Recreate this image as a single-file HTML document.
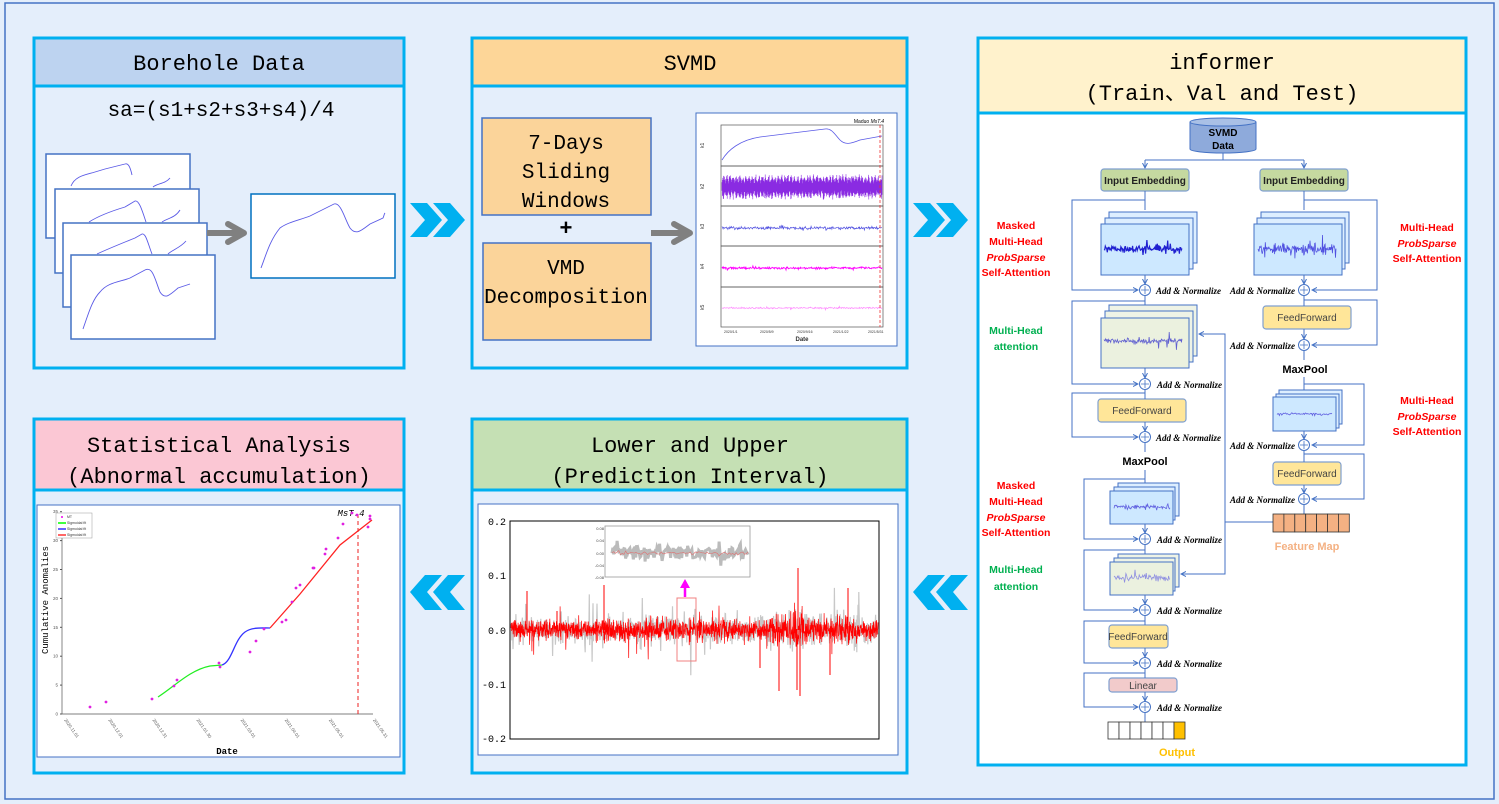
<!DOCTYPE html>
<html><head><meta charset="utf-8"><style>
html,body{margin:0;padding:0;background:#e4eefb;}
svg{display:block}
.t{font-family:"Liberation Mono",monospace;fill:#000}
.s{font-family:"Liberation Sans",Arial,sans-serif}
.an{font-family:"Liberation Serif",serif;font-style:italic;font-weight:bold;font-size:9px;fill:#000}
</style></head><body>
<svg id="sv" width="1499" height="804" viewBox="0 0 1499 804" xmlns="http://www.w3.org/2000/svg">
<defs>
<marker id="ar" markerWidth="6" markerHeight="6" refX="5" refY="3" orient="auto"><path d="M0,0.5 L5,3 L0,5.5" fill="none" stroke="#4472c4" stroke-width="1"/></marker>
</defs>
<rect x="0" y="0" width="1499" height="804" fill="#e4eefb"/>
<rect x="5" y="3" width="1489" height="796" fill="none" stroke="#4472c4" stroke-width="1.5"/>

<!-- Panel 1 -->
<rect x="34" y="38" width="370" height="330" fill="#e4eefb" stroke="#00b0f0" stroke-width="3"/>
<rect x="35.5" y="39.5" width="367" height="46" fill="#bdd3f0"/>
<line x1="34" y1="86" x2="404" y2="86" stroke="#00b0f0" stroke-width="3"/>
<text class="t" x="219" y="70" font-size="22" text-anchor="middle">Borehole Data</text>
<text class="t" x="221" y="116" font-size="21" text-anchor="middle">sa=(s1+s2+s3+s4)/4</text>
<g fill="#fff" stroke="#4472c4" stroke-width="1.5">
<rect x="46" y="154" width="144" height="84"/>
<rect x="55" y="189" width="144" height="84"/>
<rect x="63" y="223" width="144" height="84"/>
<rect x="71" y="255" width="144" height="84"/>
</g>
<g fill="none" stroke="#5a5ae6" stroke-width="0.9">
<path d="M71,186 C75,176 85,175 95,172 L105,169 L125,164 C128,163 130,166 132,175 M153,187 C158,183 165,184 170,178"/>
<path d="M89,222 C100,215 115,210 125,207 L135,201 C139,200 142,210 146,222 M162,222 C168,218 175,218 180,210"/>
<path d="M97,254 C110,248 125,242 135,238 L142,234 C146,233 148,244 152,254 M168,254 C172,250 180,248 186,241"/>
<path d="M83,329 C88,315 92,300 100,292 C108,282 120,282 130,278 L145,270 C153,266 155,280 160,292 C165,300 170,295 178,288 L190,284"/>
</g>
<rect x="251" y="194" width="144" height="84" fill="#fff" stroke="#0070c0" stroke-width="1.5"/>
<path d="M261,268 C266,255 270,240 280,228 C288,222 300,220 310,216 L334,204 C341,202 345,220 350,228 C356,236 362,230 370,224 L383,218 C384,216 384,214 385,213" fill="none" stroke="#5a5ae6" stroke-width="0.9"/>
<path d="M207,233 L241,233" stroke="#808080" stroke-width="6"/>
<path d="M228,224 L244,233 L228,242" fill="none" stroke="#808080" stroke-width="6" stroke-linecap="round" stroke-linejoin="round"/>

<!-- chevrons -->
<g fill="#00b0f0">
<path d="M410,203 L427,203 L442,220 L427,237 L410,237 L425,220Z"/><path d="M433,203 L450,203 L465,220 L450,237 L433,237 L448,220Z"/>
<path d="M913,203 L930,203 L945,220 L930,237 L913,237 L928,220Z"/><path d="M936,203 L953,203 L968,220 L953,237 L936,237 L951,220Z"/>
<path d="M465,575 L448,575 L433,592 L448,610 L465,610 L450,592Z"/><path d="M442,575 L425,575 L410,592 L425,610 L442,610 L427,592Z"/>
<path d="M968,575 L951,575 L936,592 L951,610 L968,610 L953,592Z"/><path d="M945,575 L928,575 L913,592 L928,610 L945,610 L930,592Z"/>
</g>

<!-- Panel 2 SVMD -->
<rect x="472" y="38" width="435" height="330" fill="#e4eefb" stroke="#00b0f0" stroke-width="3"/>
<rect x="473.5" y="39.5" width="432" height="46" fill="#fdd698"/>
<line x1="472" y1="86" x2="907" y2="86" stroke="#00b0f0" stroke-width="3"/>
<text class="t" x="690" y="70" font-size="22" text-anchor="middle">SVMD</text>
<rect x="482" y="118" width="169" height="97" fill="#fbd49a" stroke="#4472c4" stroke-width="1.5"/>
<rect x="483" y="243" width="168" height="97" fill="#fbd49a" stroke="#4472c4" stroke-width="1.5"/>
<text class="t" x="566" y="149" font-size="21" text-anchor="middle">7-Days</text>
<text class="t" x="566" y="178" font-size="21" text-anchor="middle">Sliding</text>
<text class="t" x="566" y="207" font-size="21" text-anchor="middle">Windows</text>
<text class="t" x="566" y="235" font-size="22" font-weight="bold" text-anchor="middle">+</text>
<text class="t" x="566" y="274" font-size="21" text-anchor="middle">VMD</text>
<text class="t" x="566" y="303" font-size="21" text-anchor="middle">Decomposition</text>
<path d="M651,233 L685,233" stroke="#808080" stroke-width="6"/>
<path d="M674,224 L690,233 L674,242" fill="none" stroke="#808080" stroke-width="6" stroke-linecap="round" stroke-linejoin="round"/>
<rect x="696" y="113" width="201" height="233" fill="#fff" stroke="#4472c4" stroke-width="1"/>
<text x="884" y="123" font-size="5" text-anchor="end" class="s">Maduo <tspan font-style="italic">MsT.4</tspan></text>
<g fill="none" stroke="#555" stroke-width="0.7">
<rect x="721" y="125" width="162" height="41"/><rect x="721" y="166" width="162" height="40"/><rect x="721" y="206" width="162" height="40"/><rect x="721" y="246" width="162" height="41"/><rect x="721" y="287" width="162" height="40"/>
</g>
<g class="s" font-size="5" fill="#333">
<text x="704" y="148" transform="rotate(-90 704 148)">k1</text><text x="704" y="189" transform="rotate(-90 704 189)">k2</text><text x="704" y="229" transform="rotate(-90 704 229)">k3</text><text x="704" y="269" transform="rotate(-90 704 269)">k4</text><text x="704" y="310" transform="rotate(-90 704 310)">k5</text>
<text x="802" y="341" font-size="6" text-anchor="middle" font-weight="bold">Date</text>
<text x="724" y="333" font-size="3.5">2020/1/1</text><text x="760" y="333" font-size="3.5">2020/5/9</text><text x="797" y="333" font-size="3.5">2020/9/16</text><text x="833" y="333" font-size="3.5">2021/1/22</text><text x="868" y="333" font-size="3.5">2021/5/31</text>
</g>
<path d="M722,160 C728,150 740,140 760,137 L825,129 C832,128 835,135 840,140 C845,145 850,144 860,140 L882,136" fill="none" stroke="#5a5ae6" stroke-width="0.8"/>
<g id="svmdg"></g>
<line x1="880" y1="125" x2="880" y2="327" stroke="#e33" stroke-width="0.8" stroke-dasharray="3,2"/>

<!-- Panel 3 informer -->
<rect x="978" y="38" width="488" height="727" fill="#fff" stroke="#00b0f0" stroke-width="3"/>
<rect x="979.5" y="39.5" width="485" height="72" fill="#fff2cc"/>
<line x1="978" y1="113" x2="1466" y2="113" stroke="#00b0f0" stroke-width="3"/>
<text class="t" x="1222" y="69" font-size="22" text-anchor="middle">informer</text>
<text class="t" x="1222" y="100" font-size="22" text-anchor="middle" font-family="'Liberation Mono','Noto Sans CJK SC',monospace">(Train、Val and Test)</text>

<!-- cylinder -->
<path d="M1190,122 L1190,149 A33,4 0 0 0 1256,149 L1256,122" fill="#8eaadb" stroke="#4472c4"/>
<ellipse cx="1223" cy="122" rx="33" ry="4" fill="#a9c0e6" stroke="#4472c4"/>
<text class="s" x="1223" y="136" font-size="10" font-weight="bold" text-anchor="middle">SVMD</text>
<text class="s" x="1223" y="149" font-size="10" font-weight="bold" text-anchor="middle">Data</text>
<g fill="none" stroke="#4472c4" stroke-width="1">
<path d="M1223,153 L1223,160 M1145,160 L1304,160"/>
<path d="M1145,160 L1145,168" marker-end="url(#ar)"/><path d="M1304,160 L1304,168" marker-end="url(#ar)"/>
</g>
<g stroke="#7f9fd0" stroke-width="1.2">
<rect x="1101" y="169" width="88" height="22" rx="3" fill="#c5d9a0"/>
<rect x="1260" y="169" width="88" height="22" rx="3" fill="#c5d9a0"/>
</g>
<text class="s" x="1145" y="184" font-size="10" text-anchor="middle" font-weight="bold" fill="#222">Input Embedding</text>
<text class="s" x="1304" y="184" font-size="10" text-anchor="middle" font-weight="bold" fill="#222">Input Embedding</text>

<!-- stacks -->
<g stroke="#4472c4" stroke-width="1">
<rect x="1109" y="212" width="88" height="51" fill="#ddeeff"/><rect x="1105" y="218" width="88" height="51" fill="#ddeeff"/><rect x="1101" y="224" width="88" height="51" fill="#cde8ff"/>
<rect x="1109" y="305" width="88" height="51" fill="#eef3e6"/><rect x="1105" y="311" width="88" height="51" fill="#eef3e6"/><rect x="1101" y="318" width="88" height="50" fill="#ebf1df"/>
<rect x="1118" y="483" width="61" height="33" fill="#ddeeff"/><rect x="1114" y="487" width="61" height="33" fill="#ddeeff"/><rect x="1110" y="491" width="63" height="33" fill="#cde8ff"/>
<rect x="1118" y="554" width="61" height="33" fill="#eef3e6"/><rect x="1114" y="558" width="61" height="33" fill="#eef3e6"/><rect x="1110" y="562" width="63" height="33" fill="#ebf1df"/>
<rect x="1261" y="212" width="88" height="51" fill="#ddeeff"/><rect x="1257" y="218" width="88" height="51" fill="#ddeeff"/><rect x="1254" y="224" width="88" height="51" fill="#cde8ff"/>
<rect x="1279" y="390" width="63" height="34" fill="#ddeeff"/><rect x="1276" y="394" width="63" height="34" fill="#ddeeff"/><rect x="1273" y="397" width="63" height="34" fill="#cde8ff"/>
</g>
<g id="sig"></g>

<!-- FF, linear -->
<g stroke="#7f9fd0" stroke-width="1.2" fill="#ffe699">
<rect x="1098" y="399" width="88" height="23" rx="3"/><rect x="1263" y="306" width="88" height="23" rx="3"/><rect x="1273" y="462" width="68" height="23" rx="3"/><rect x="1109" y="625" width="59" height="23" rx="3"/>
<rect x="1109" y="678" width="68" height="14" rx="3" fill="#f2cbcb"/>
</g>
<g class="s" font-size="10" fill="#444" text-anchor="middle">
<text x="1142" y="414">FeedForward</text><text x="1307" y="321">FeedForward</text><text x="1307" y="477">FeedForward</text><text x="1138" y="640">FeedForward</text><text x="1143" y="689">Linear</text>
</g>
<text class="s" x="1145" y="465" font-size="11" font-weight="bold" text-anchor="middle">MaxPool</text>
<text class="s" x="1305" y="373" font-size="11" font-weight="bold" text-anchor="middle">MaxPool</text>

<!-- connectors -->
<g fill="none" stroke="#4472c4" stroke-width="1">
<path d="M1145,191 L1145,210"/><path d="M1145,200 L1072,200 L1072,290 L1138,290" marker-end="url(#ar)"/>
<path d="M1145,275 L1145,284" marker-end="url(#ar)"/><path d="M1145,296 L1145,305"/>
<path d="M1145,301 L1072,301 L1072,384 L1138,384" marker-end="url(#ar)"/>
<path d="M1145,368 L1145,378" marker-end="url(#ar)"/><path d="M1145,390 L1145,399"/>
<path d="M1145,393 L1072,393 L1072,437 L1138,437" marker-end="url(#ar)"/>
<path d="M1145,422 L1145,431" marker-end="url(#ar)"/><path d="M1145,443 L1145,452"/>
<path d="M1145,470 L1145,483"/><path d="M1145,479 L1084,479 L1084,539 L1138,539" marker-end="url(#ar)"/>
<path d="M1145,524 L1145,533" marker-end="url(#ar)"/><path d="M1145,545 L1145,554"/>
<path d="M1145,550 L1084,550 L1084,610 L1138,610" marker-end="url(#ar)"/>
<path d="M1145,595 L1145,604" marker-end="url(#ar)"/><path d="M1145,616 L1145,625"/>
<path d="M1145,621 L1084,621 L1084,663 L1138,663" marker-end="url(#ar)"/>
<path d="M1145,648 L1145,657" marker-end="url(#ar)"/><path d="M1145,669 L1145,678"/>
<path d="M1145,673 L1084,673 L1084,707 L1138,707" marker-end="url(#ar)"/>
<path d="M1145,692 L1145,701" marker-end="url(#ar)"/><path d="M1145,713 L1145,722"/>
<path d="M1304,191 L1304,210"/><path d="M1304,200 L1377,200 L1377,290 L1312,290" marker-end="url(#ar)"/>
<path d="M1304,275 L1304,284" marker-end="url(#ar)"/><path d="M1304,296 L1304,306"/>
<path d="M1304,300 L1377,300 L1377,345 L1312,345" marker-end="url(#ar)"/>
<path d="M1304,329 L1304,339" marker-end="url(#ar)"/><path d="M1304,351 L1304,360"/>
<path d="M1304,377 L1304,390"/><path d="M1304,384 L1364,384 L1364,445 L1312,445" marker-end="url(#ar)"/>
<path d="M1304,431 L1304,439" marker-end="url(#ar)"/><path d="M1304,451 L1304,462"/>
<path d="M1304,454 L1364,454 L1364,499 L1312,499" marker-end="url(#ar)"/>
<path d="M1304,485 L1304,493" marker-end="url(#ar)"/><path d="M1304,505 L1304,514"/>
<path d="M1273,522 L1225,522 L1225,334 L1199,334" marker-end="url(#ar)"/>
<path d="M1225,522 L1225,574 L1181,574" marker-end="url(#ar)"/>
</g>
<g fill="#fff" stroke="#4472c4" stroke-width="1">
<circle cx="1145" cy="290" r="5.5"/><circle cx="1145" cy="384" r="5.5"/><circle cx="1145" cy="437" r="5.5"/><circle cx="1145" cy="539" r="5.5"/><circle cx="1145" cy="610" r="5.5"/><circle cx="1145" cy="663" r="5.5"/><circle cx="1145" cy="707" r="5.5"/>
<circle cx="1304" cy="290" r="5.5"/><circle cx="1304" cy="345" r="5.5"/><circle cx="1304" cy="445" r="5.5"/><circle cx="1304" cy="499" r="5.5"/>
</g>
<g stroke="#4472c4" stroke-width="0.8" id="pl"></g>
<g class="an">
<text x="1156" y="294">Add &amp; Normalize</text><text x="1157" y="388">Add &amp; Normalize</text><text x="1156" y="441">Add &amp; Normalize</text><text x="1157" y="543">Add &amp; Normalize</text><text x="1157" y="614">Add &amp; Normalize</text><text x="1157" y="667">Add &amp; Normalize</text><text x="1157" y="711">Add &amp; Normalize</text>
<text x="1295" y="294" text-anchor="end">Add &amp; Normalize</text><text x="1295" y="349" text-anchor="end">Add &amp; Normalize</text><text x="1295" y="449" text-anchor="end">Add &amp; Normalize</text><text x="1295" y="503" text-anchor="end">Add &amp; Normalize</text>
</g>
<g id="cells"></g>
<text class="s" x="1307" y="550" font-size="11" fill="#f4b183" font-weight="bold" text-anchor="middle">Feature Map</text>
<text class="s" x="1177" y="756" font-size="11" fill="#ffc000" font-weight="bold" text-anchor="middle">Output</text>
<g class="s" font-size="10.5" font-weight="bold" text-anchor="middle" fill="#ff0000">
<text x="1016" y="229">Masked</text><text x="1016" y="245">Multi-Head</text><text x="1016" y="261" font-style="italic">ProbSparse</text><text x="1016" y="276">Self-Attention</text>
<text x="1016" y="489">Masked</text><text x="1016" y="505">Multi-Head</text><text x="1016" y="521" font-style="italic">ProbSparse</text><text x="1016" y="536">Self-Attention</text>
<text x="1427" y="231">Multi-Head</text><text x="1427" y="247" font-style="italic">ProbSparse</text><text x="1427" y="262">Self-Attention</text>
<text x="1427" y="404">Multi-Head</text><text x="1427" y="420" font-style="italic">ProbSparse</text><text x="1427" y="435">Self-Attention</text>
<text x="1016" y="334" fill="#00b050">Multi-Head</text><text x="1016" y="350" fill="#00b050">attention</text>
<text x="1016" y="573" fill="#00b050">Multi-Head</text><text x="1016" y="590" fill="#00b050">attention</text>
</g>

<!-- Panel 4 -->
<rect x="34" y="419" width="370" height="354" fill="#e4eefb" stroke="#00b0f0" stroke-width="3"/>
<rect x="35.5" y="420.5" width="367" height="68" fill="#fbc7d4"/>
<line x1="34" y1="490" x2="404" y2="490" stroke="#00b0f0" stroke-width="3"/>
<text class="t" x="219" y="452" font-size="22" text-anchor="middle">Statistical Analysis</text>
<text class="t" x="219" y="483" font-size="22" text-anchor="middle">(Abnormal accumulation)</text>
<rect x="37" y="505" width="363" height="252" fill="#fff" stroke="#4472c4" stroke-width="1"/>
<g stroke="#555" stroke-width="0.7" fill="none">
<path d="M62,514 L62,714 L373,714"/>
</g>
<g class="s" font-size="4.5" fill="#555" text-anchor="end" id="p4y"></g>
<text x="48" y="600" class="t" font-size="9" fill="#666" text-anchor="middle" transform="rotate(-90 48 600)">Cumulative Anomalies</text>
<text x="227" y="754" class="t" font-size="9" fill="#555" text-anchor="middle" font-weight="bold">Date</text>
<g id="p4x" class="s" font-size="4.5" fill="#666"></g>
<rect x="56" y="513" width="36" height="25" fill="#fff" stroke="#999" stroke-width="0.5"/>
<g stroke-width="1.5"><line x1="58" y1="523" x2="66" y2="523" stroke="#0f0"/><line x1="58" y1="529" x2="66" y2="529" stroke="#33f"/><line x1="58" y1="535" x2="66" y2="535" stroke="#f33"/></g>
<circle cx="62" cy="517" r="1" fill="#e0e"/>
<g class="s" font-size="3.5" fill="#333"><text x="67" y="518">MT</text><text x="67" y="524">Sigmoidal fit</text><text x="67" y="530">Sigmoidal fit</text><text x="67" y="536">Sigmoidal fit</text></g>
<path d="M158,697 C175,686 190,670 210,666 L222,665" fill="none" stroke="#22ee22" stroke-width="1.3"/>
<path d="M222,665 C232,662 234,640 245,632 C252,627 262,628 270,628" fill="none" stroke="#3333ff" stroke-width="1.3"/>
<path d="M270,628 L300,594 L340,545 L372,520" fill="none" stroke="#ff2222" stroke-width="1.3"/>
<line x1="358" y1="514" x2="358" y2="714" stroke="#ee2222" stroke-width="1" stroke-dasharray="4,3"/>
<text x="351" y="516" class="t" font-size="9" font-style="italic" fill="#333" text-anchor="middle">MsT.4</text>
<g fill="#e020e0" id="p4pts"></g>

<!-- Panel 5 -->
<rect x="472" y="419" width="435" height="354" fill="#e4eefb" stroke="#00b0f0" stroke-width="3"/>
<rect x="473.5" y="420.5" width="432" height="68" fill="#c5e0b4"/>
<line x1="472" y1="490" x2="907" y2="490" stroke="#00b0f0" stroke-width="3"/>
<text class="t" x="690" y="452" font-size="22" text-anchor="middle">Lower and Upper</text>
<text class="t" x="690" y="483" font-size="22" text-anchor="middle">(Prediction Interval)</text>
<rect x="478" y="504" width="420" height="251" fill="#fff" stroke="#4472c4" stroke-width="1"/>
<g id="p5"></g>
<g stroke="#000" stroke-width="1" fill="none"><rect x="510" y="521" width="369" height="218"/></g>
<g class="t" font-size="10" text-anchor="end" fill="#000">
<text x="506" y="525">0.2</text><text x="506" y="579">0.1</text><text x="506" y="634">0.0</text><text x="506" y="688">-0.1</text><text x="506" y="742">-0.2</text>
</g>
<rect x="605" y="526" width="145" height="51" fill="#fff" stroke="#999" stroke-width="0.8"/>
<g id="inset"></g>
<g class="s" font-size="4" fill="#444" text-anchor="end"><text x="604" y="530">0.08</text><text x="604" y="542">0.04</text><text x="604" y="555">0.00</text><text x="604" y="567">-0.04</text><text x="604" y="579">-0.08</text></g>
<rect x="677" y="598" width="19" height="63" fill="none" stroke="#f08080" stroke-width="1"/>
<path d="M685,597 L685,586" stroke="#ff00ff" stroke-width="2.5"/><path d="M680,588 L685,579 L690,588Z" fill="#ff00ff"/>
</svg>
<script>
(function(){
var s=12345;function r(){s=(s*1103515245+12345)%2147483648;return s/2147483648;}
function g(){return (r()+r()+r()-1.5)/1.5;}
var NS="http://www.w3.org/2000/svg";
function el(p,t,a){var e=document.createElementNS(NS,t);for(var k in a)e.setAttribute(k,a[k]);document.getElementById(p).appendChild(e);return e;}
function noise(x0,x1,yc,n,ampf,spk){var d="";for(var i=0;i<=n;i++){var x=x0+(x1-x0)*i/n;var a=ampf(x);var v=g()*a;if(r()<spk)v*=2.5;d+=(i?"L":"M")+x.toFixed(1)+","+(yc+v).toFixed(1);}return d;}
var d="";for(var i=0;i<=400;i++){var x=722+160*i/400;var a=13*(0.45+0.55*Math.abs(Math.sin(i*0.39)));d+="M"+x.toFixed(1)+","+(187-a*(0.5+0.5*r())).toFixed(1)+"L"+x.toFixed(1)+","+(187+a*(0.5+0.5*r())).toFixed(1);}
el("svmdg","path",{d:d,stroke:"#8a2be2","stroke-width":"0.6",fill:"none"});
el("svmdg","path",{d:noise(722,882,228,300,function(){return 2},0.08),stroke:"#5050e0","stroke-width":"0.7",fill:"none"});
el("svmdg","path",{d:noise(722,882,268,300,function(){return 1.6},0.06),stroke:"#ff00ff","stroke-width":"0.9",fill:"none"});
el("svmdg","path",{d:noise(722,882,308,300,function(){return 1},0.06),stroke:"#ff88ff","stroke-width":"0.7",fill:"none"});
function sig(x0,x1,yc,a,c,n,w){el("sig","path",{d:noise(x0,x1,yc,n,function(x){return a*(0.3+0.7*Math.abs(Math.sin(x*0.3)))},0.1),stroke:c,"stroke-width":w||"0.8",fill:"none"});}
sig(1104,1182,249,7,"#2020d0",120,"1.2");sig(1258,1336,249,10,"#5050e0",150);sig(1104,1182,341,5,"#6060d0",140);
sig(1114,1170,507,4,"#6060e0",80);sig(1114,1170,578,6,"#9090e0",80);sig(1277,1332,414,2,"#6060e0",70);
var p="";[[1145,290],[1145,384],[1145,437],[1145,539],[1145,610],[1145,663],[1145,707],[1304,290],[1304,345],[1304,445],[1304,499]].forEach(function(c){p+="M"+(c[0]-4)+","+c[1]+"h8M"+c[0]+","+(c[1]-4)+"v8";});
el("pl","path",{d:p,fill:"none"});
for(var i=0;i<7;i++){el("cells","rect",{x:1273+i*10.9,y:514,width:10.9,height:18,fill:"#f4b183",stroke:"#333","stroke-width":"0.8"});
el("cells","rect",{x:1108+i*11,y:722,width:11,height:17,fill:i==6?"#ffc000":"#fff",stroke:"#333","stroke-width":"0.8"});}
for(var k=0;k<=7;k++){var y=714-k*28.9;el("p4y","text",{x:58,y:y+1.5}).textContent=String(k*5);el("p4y","line",{x1:62,y1:y,x2:60,y2:y,stroke:"#555"});}
var lab=["2020.11.01","2020.12.01","2020.12.31","2021.01.30","2021.03.01","2021.04.01","2021.05.01","2021.05.31"];
for(var k=0;k<8;k++){var x=64+k*29.4*1.5;var t=el("p4x","text",{x:x,y:720,transform:"rotate(55 "+x+" 720)"});t.textContent=lab[k];}
[[152,699],[174,686],[177,680],[219,663],[220,667],[250,652],[256,641],[264,629],[282,622],[286,620],[292,602],[296,588],[300,585],[313,568],[314,568],[325,554],[326,549],[338,538],[343,524],[352,513],[357,515],[370,519],[368,527],[370,516],[90,707],[106,702]].forEach(function(c){el("p4pts","circle",{cx:c[0],cy:c[1],r:1.4});});
function amp(x){var a=15;if(x>770&&x<860)a=20;if(x>790&&x<805)a=28;return a;}
el("p5","path",{d:noise(511,878,630,900,function(x){return amp(x)*1.35},0.05),stroke:"#c8c8c8","stroke-width":"1.2",fill:"none"});
el("p5","path",{d:noise(511,878,630,1600,amp,0.05),stroke:"#ff0000","stroke-width":"0.7",fill:"none"});
var sp="M527,630V591M557,630V611M604,630V585M798,630V568M800,630V696M797,630V690M848,630V588M779,630V691M760,630V668M830,630V675";
el("p5","path",{d:sp,stroke:"#ff0000","stroke-width":"1",fill:"none"});
el("inset","path",{d:noise(612,748,553,160,function(){return 10},0.05),stroke:"#bbbbbb","stroke-width":"3",fill:"none"});
el("inset","path",{d:noise(612,748,553,80,function(){return 3},0.02),stroke:"#e07070","stroke-width":"0.6",fill:"none"});
})();
</script>
</body></html>
